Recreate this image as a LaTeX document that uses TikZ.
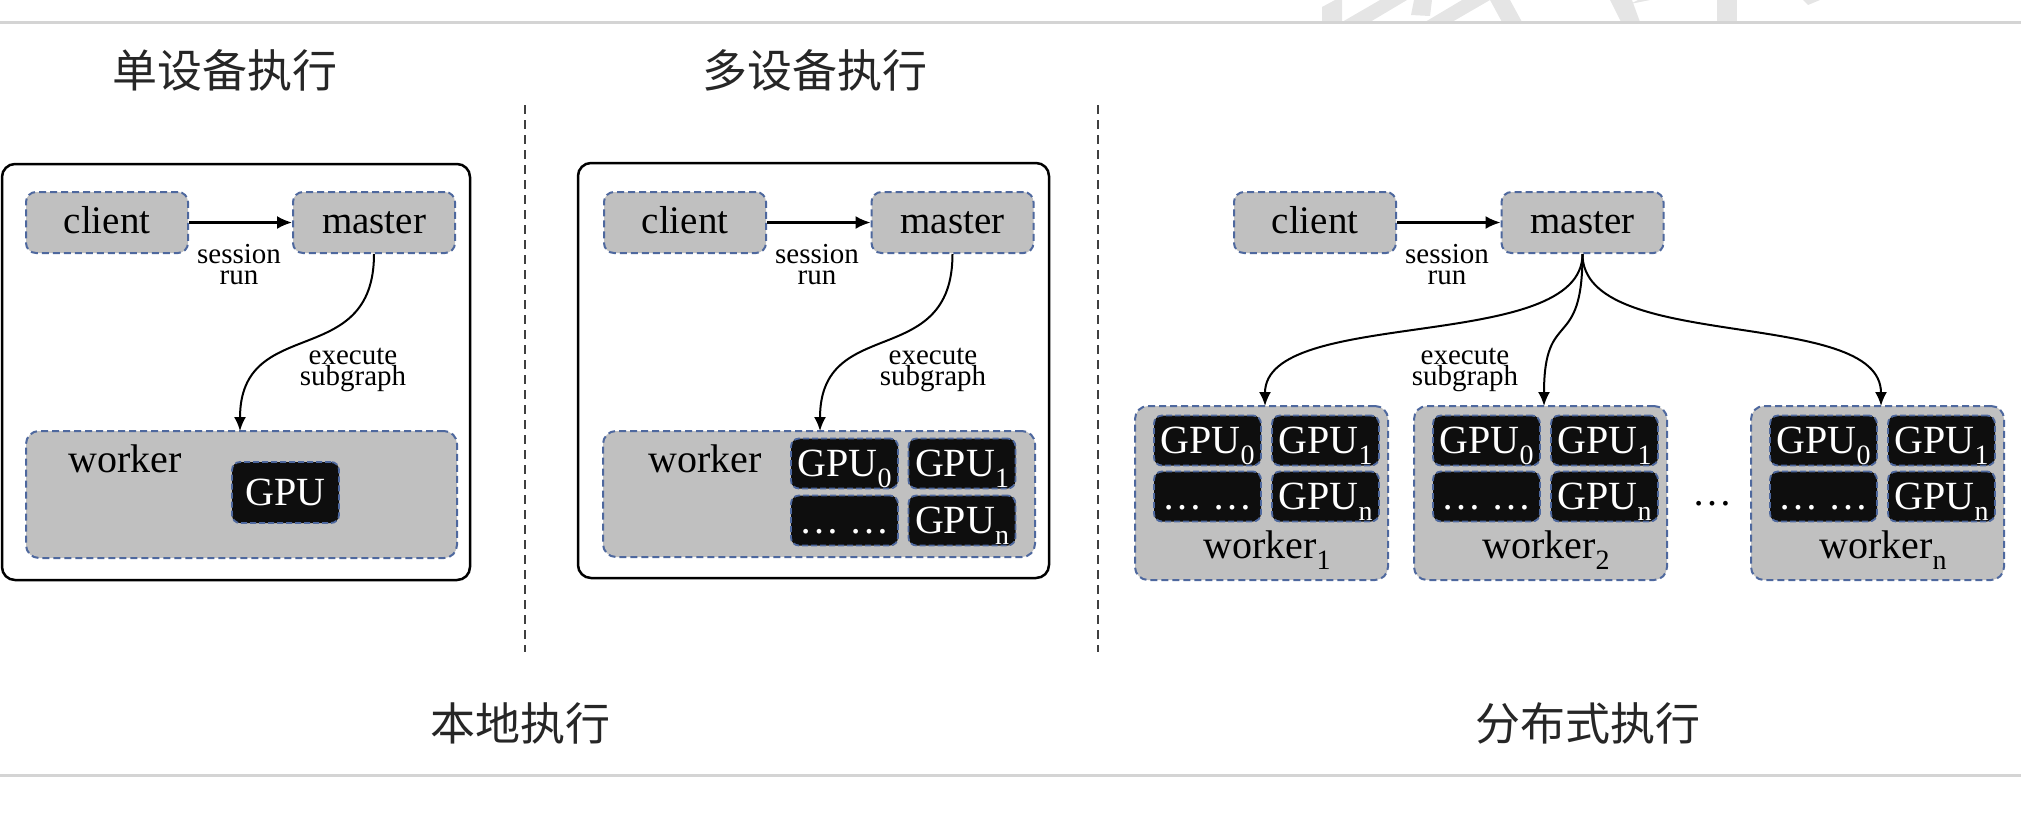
\documentclass[tikz,border=0pt]{standalone}
\usepackage{fontspec}
\setmainfont{Liberation Serif}
\newfontfamily\cjk{Noto Sans CJK SC}
\usetikzlibrary{arrows.meta,calc}
\definecolor{boxgray}{RGB}{192,192,192}
\definecolor{dashblue}{RGB}{78,104,158}
\definecolor{gpublack}{RGB}{14,14,14}
\definecolor{rulegray}{RGB}{212,212,212}
\definecolor{wmgray}{RGB}{229,229,229}
\newcommand{\gsub}[1]{\raisebox{-11pt}{\fontsize{28}{28}\selectfont #1}}
\tikzset{
  pnode/.style={draw=dashblue, fill=boxgray, dash pattern=on 7pt off 4pt, line width=2pt,
    rounded corners=10pt, inner sep=0pt, font=\fontsize{39}{39}\selectfont,
    text height=27pt, text depth=6pt, minimum width=162pt, minimum height=61pt},
  gpubox/.style={draw=dashblue, fill=gpublack, dash pattern=on 6pt off 3pt, line width=1.8pt,
    rounded corners=8pt, inner sep=0pt, text=white, font=\fontsize{40}{40}\selectfont,
    text height=26pt, text depth=0pt, minimum width=107pt, minimum height=50pt},
  workerbox/.style={draw=dashblue, fill=boxgray, dash pattern=on 7pt off 4pt, line width=2pt,
    rounded corners=13pt, inner sep=0pt},
  outerbox/.style={draw=black, line width=2.5pt, rounded corners=13pt, inner sep=0pt},
  lbl/.style={font=\fontsize{29}{21}\selectfont, align=center, inner sep=0pt},
  wtext/.style={font=\fontsize{40}{40}\selectfont, inner sep=0pt},
  flow/.style={line width=2.2pt, -{Latex[length=15pt,width=13pt]}},
  bendarrow/.style={line width=2pt, -{Latex[length=14pt,width=12pt]}},
  title/.style={font=\cjk\fontsize{45}{45}\selectfont, text=black!85, inner sep=0pt},
  sep/.style={draw=black!75, line width=2pt, dash pattern=on 9pt off 6pt}
}
\begin{document}
\begin{tikzpicture}[x=1pt,y=-1pt]
\useasboundingbox (0,0) rectangle (2021,823);
% watermark fragments
\fill[wmgray] (1322,22) -- (1342,22) -- (1342,0) -- (1335,0) -- (1322,7) -- cycle;
\fill[wmgray] (1342,22) -- (1370,22) -- (1407,0) -- (1380,0) -- cycle;
\fill[wmgray] (1411,15) -- (1430,16) -- (1432,0) -- (1414,0) -- cycle;
\fill[wmgray] (1425,22) -- (1452,22) -- (1490,0) -- (1462,0) -- cycle;
\fill[wmgray] (1490,0) -- (1510,0) -- (1522,22) -- (1502,22) -- cycle;
\fill[wmgray] (1610,0) -- (1632,0) -- (1640,22) -- (1621,22) -- cycle;
\fill[wmgray] (1630,4) -- (1650,0) -- (1638,0) -- cycle;
\fill[wmgray] (1717,0) rectangle (1737,22);
\fill[wmgray] (1803,0) -- (1808,5) -- (1820,0) -- cycle;
% rules
\draw[rulegray, line width=3pt] (0,22) -- (2021,22);
\draw[rulegray, line width=3pt] (0,775) -- (2021,775);
% separators
\draw[sep] (525,105) -- (525,652);
\draw[sep] (1098,105) -- (1098,652);
% titles
\node[title] (t1) at (225,70) {单设备执行};
\node[title] (t2) at (815,70) {多设备执行};
\node[title] (t3) at (520,723) {本地执行};
\node[title] (t4) at (1588,723) {分布式执行};

% ---------- left panel ----------
\node[outerbox, minimum width=468pt, minimum height=416pt] (box1) at (236,372) {};
\node[pnode] (c1) at (107,222.5) {client};
\node[pnode] (m1) at (374,222.5) {master};
\draw[flow] (c1) -- (m1);
\node[lbl] (s1) at (239,265) {session\\run};
\node[workerbox, minimum width=431pt, minimum height=127pt] (w1) at (241.5,494.5) {};
\node[wtext, anchor=base west] (w1t) at (68,472) {worker};
\node[gpubox, minimum height=61pt] (g1) at (285.5,492.5) {GPU};
\coordinate (e1) at (240,431);
\draw[bendarrow] (m1.south) .. controls +(0,118) and +(0,-118) .. (e1);
\node[lbl] (x1) at (353,370) {execute\\subgraph};

% ---------- middle panel ----------
\node[outerbox, minimum width=471pt, minimum height=415pt] (box2) at (813.5,370.5) {};
\node[pnode] (c2) at (685,222.5) {client};
\node[pnode] (m2) at (952.5,222.5) {master};
\draw[flow] (c2) -- (m2);
\node[lbl] (s2) at (817,265) {session\\run};
\node[workerbox, minimum width=432pt, minimum height=126pt] (w2) at (819,494) {};
\node[wtext, anchor=base west] (w2t) at (648,472) {worker};
\node[gpubox] (g20) at (844.5,463.5) {GPU\gsub{0}};
\node[gpubox] (g21) at (962,463.5) {GPU\gsub{1}};
\node[gpubox] (g2d) at (844.5,520.5) {… …};
\node[gpubox] (g2n) at (962,520.5) {GPU\gsub{n}};
\coordinate (e2) at (820,431);
\draw[bendarrow] (m2.south) .. controls +(0,118) and +(0,-118) .. (e2);
\node[lbl] (x2) at (933,370) {execute\\subgraph};

% ---------- right panel ----------
\node[pnode] (c3) at (1315,222.5) {client};
\node[pnode] (m3) at (1582.5,222.5) {master};
\draw[flow] (c3) -- (m3);
\node[lbl] (s3) at (1447,265) {session\\run};

\foreach \L/\k/\s in {1135/a/1, 1414/b/2, 1751/c/n} {
  \node[workerbox, minimum width=253pt, minimum height=174pt] (wk\k) at (\L+126.5,493) {};
  \node[gpubox] (gk\k0) at (\L+72.5,440.5) {GPU\gsub{0}};
  \node[gpubox] (gk\k1) at (\L+190.5,440.5) {GPU\gsub{1}};
  \node[gpubox] (gk\k d) at (\L+72.5,496.5) {… …};
  \node[gpubox] (gk\k n) at (\L+190.5,496.5) {GPU\gsub{n}};
  \node[wtext, anchor=base] (wkt\k) at (\L+132,558) {worker\gsub{\s}};
  \coordinate (ek\k) at (\L+130,406);
  \draw[bendarrow] (m3.south) .. controls +(0,100) and +(0,-100) .. (ek\k);
}
\node[lbl] (x3) at (1465,370) {execute\\subgraph};
\node[wtext, anchor=base] (dots) at (1712,505) {…};
\end{tikzpicture}
\end{document}
